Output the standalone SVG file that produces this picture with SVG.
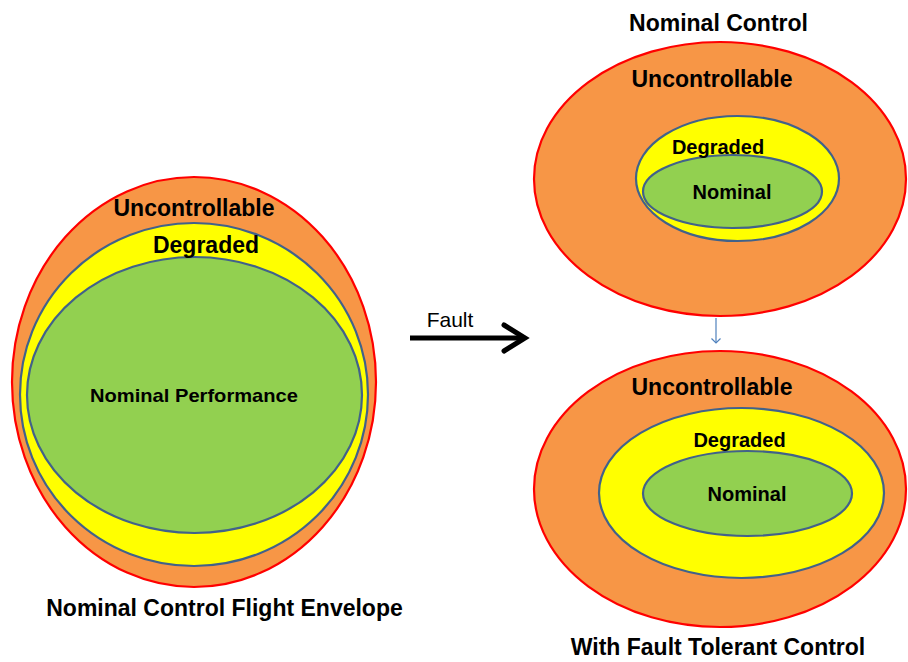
<svg xmlns="http://www.w3.org/2000/svg" width="908" height="662" viewBox="0 0 908 662">
<style>
.outer{fill:#F79646;stroke:#FF0000;stroke-width:2.2}
.deg{fill:#FFFF00;stroke:#41628A;stroke-width:2.2}
.nom{fill:#92D050;stroke:#41628A;stroke-width:2.2}
text{font-family:"Liberation Sans",Arial,sans-serif;font-weight:bold;fill:#000;text-anchor:middle}
.big{font-size:23px}
.mid{font-size:20px}
</style>
<defs>
<marker id="blueHead" markerWidth="10" markerHeight="10" refX="5" refY="5" orient="auto" markerUnits="userSpaceOnUse">
<path d="M0.5,0.5 L5,5 L0.5,9.5" fill="none" stroke="#4F81BD" stroke-width="1.2"/>
</marker>
</defs>
<rect width="908" height="662" fill="#FFFFFF"/>
<g id="left-envelope">
<ellipse class="outer" cx="194" cy="382" rx="182" ry="205"/>
<ellipse class="deg" cx="194" cy="394.5" rx="174" ry="171.5"/>
<ellipse class="nom" cx="194.5" cy="395" rx="167.5" ry="138"/>
<text class="big" x="194" y="216">Uncontrollable</text>
<text class="big" x="206" y="253">Degraded</text>
<text x="194" y="402" style="font-size:19px" textLength="208" lengthAdjust="spacingAndGlyphs">Nominal Performance</text>
<text class="big" x="224.5" y="616">Nominal Control Flight Envelope</text>
</g>
<g id="top-right">
<text class="big" x="718.5" y="31">Nominal Control</text>
<ellipse class="outer" cx="720" cy="179" rx="186" ry="137"/>
<ellipse class="deg" cx="737.5" cy="178.5" rx="101.5" ry="62.5"/>
<ellipse class="nom" cx="732.5" cy="191.5" rx="89.5" ry="36.5"/>
<text class="big" x="712" y="87">Uncontrollable</text>
<text class="mid" x="718" y="154">Degraded</text>
<text class="mid" x="732" y="199">Nominal</text>
</g>
<g id="bottom-right">
<ellipse class="outer" cx="720" cy="489" rx="186" ry="138"/>
<ellipse class="deg" cx="741.5" cy="493" rx="142.5" ry="85"/>
<ellipse class="nom" cx="747.5" cy="493.5" rx="104.5" ry="42.5"/>
<text class="big" x="712" y="395">Uncontrollable</text>
<text class="mid" x="739.5" y="447">Degraded</text>
<text class="mid" x="747" y="501">Nominal</text>
<text class="big" x="718" y="655">With Fault Tolerant Control</text>
</g>
<g id="connectors">
<g id="fault-arrow">
<line x1="410" y1="338" x2="524" y2="338" stroke="#000" stroke-width="5"/>
<path d="M504,325 L525,338 L504,351" fill="none" stroke="#000" stroke-width="5" stroke-linecap="round" stroke-linejoin="miter"/>
<text x="450" y="327" style="font-size:21px;font-weight:normal">Fault</text>
</g>
<line x1="716" y1="318" x2="716" y2="343" stroke="#4F81BD" stroke-width="1.2" marker-end="url(#blueHead)"/>
</g>
</svg>
